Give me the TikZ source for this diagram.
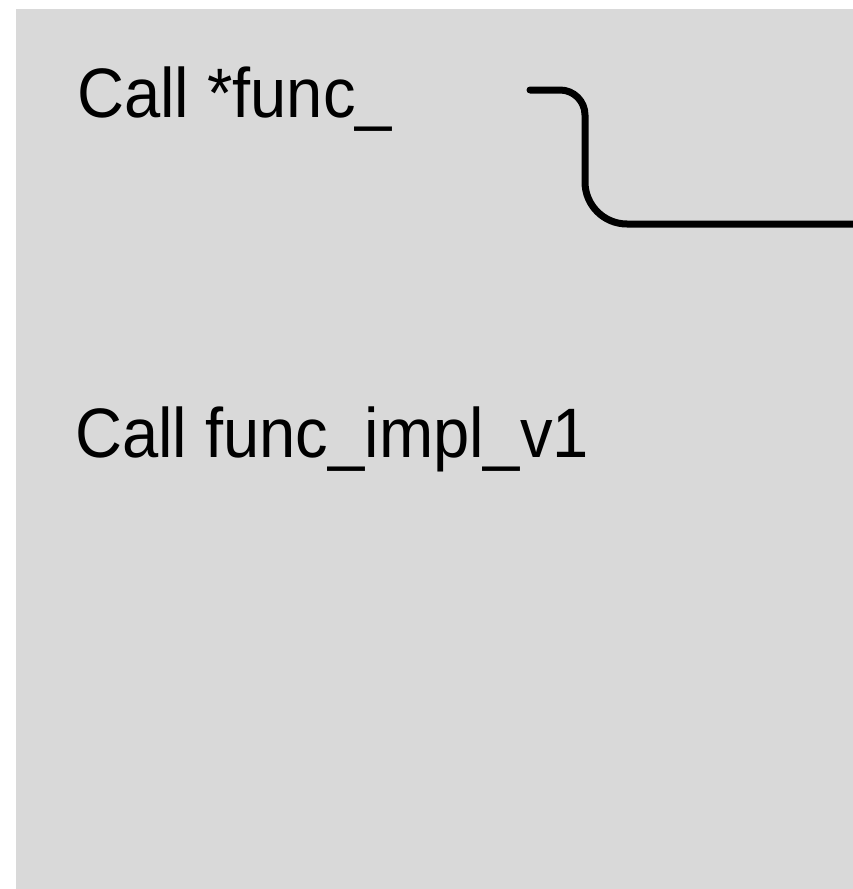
\documentclass[tikz,border=0pt]{standalone}
\usepackage{fontspec}
\setmainfont{Liberation Sans}[FakeStretch=0.93]
\begin{document}
\begin{tikzpicture}[x=1pt,y=-1pt,
  label/.style={anchor=base west,inner sep=0pt,font=\fontsize{70}{84}\selectfont},
  wire/.style={line width=7pt,line cap=round}]
\useasboundingbox (0,0) rectangle (853,889);
\fill[white] (0,0) rectangle (853,889);
\fill[fill={rgb,255:red,217;green,217;blue,217}] (16,9) rectangle (853,889);
\node[label] (call) at (77,117) {Call *func\_};
\node[label] (impl) at (75,457) {Call func\_impl\_v1};
% connector leaving the first call and running off to the right
\coordinate (start) at (530,90);
\coordinate (exit) at (853,224);
\draw[wire] (start) -- (560,90) arc[start angle=-90,end angle=0,radius=25]
  -- (585,182) arc[start angle=180,end angle=90,radius=42] -- (exit);
\end{tikzpicture}
\end{document}
